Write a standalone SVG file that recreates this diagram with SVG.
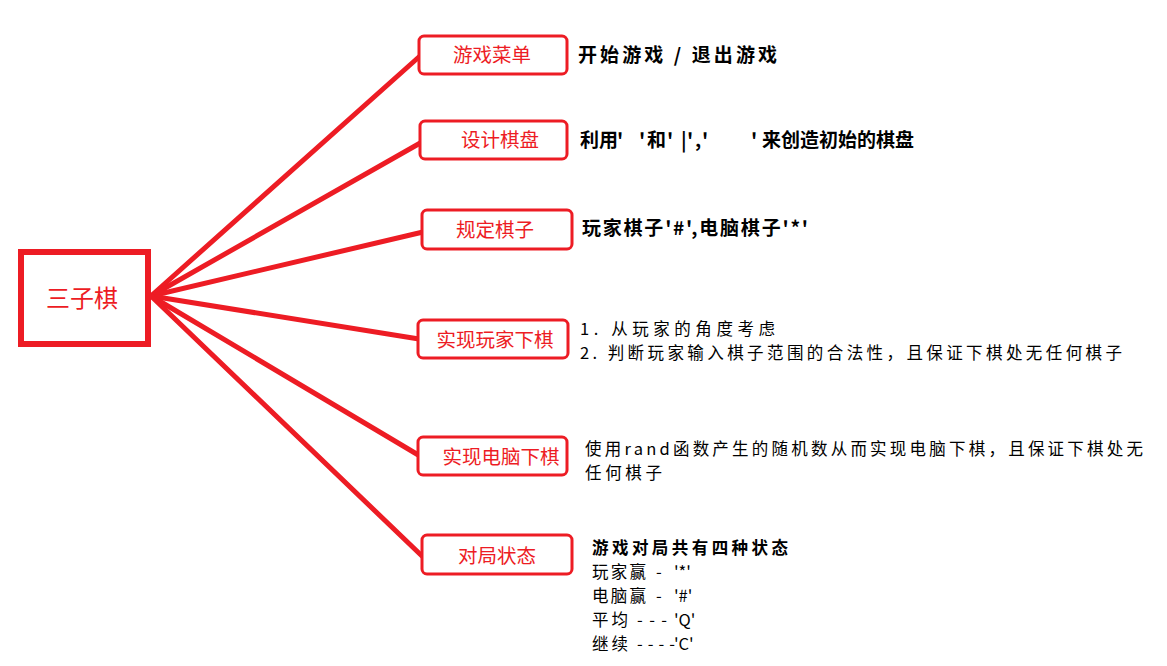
<svg xmlns="http://www.w3.org/2000/svg" width="1167" height="666" viewBox="0 0 1167 666">
<style>
.box{fill:#fff;stroke:#ed1c24;stroke-width:3}
.lbl{font-family:"Noto Sans CJK SC","Liberation Serif",serif;font-size:19.5px;fill:#ed1c24;text-anchor:middle}
.txt{font-family:"Noto Sans CJK SC","Liberation Sans",sans-serif;font-size:19px;fill:#000}
.sm{font-size:16.5px}
.b{font-weight:bold}
.conn{stroke:#ed1c24;stroke-width:5;fill:none;stroke-linecap:round}
</style>
<rect width="1167" height="666" fill="#fff"/>
<g id="connectors">
<line class="conn" x1="151" y1="296" x2="420" y2="56"/>
<line class="conn" x1="151" y1="296" x2="422" y2="142"/>
<line class="conn" x1="151" y1="296" x2="423" y2="232"/>
<line class="conn" x1="151" y1="296" x2="419" y2="339"/>
<line class="conn" x1="151" y1="296" x2="420" y2="456"/>
<line class="conn" x1="151" y1="296" x2="422" y2="556"/>
</g>
<g id="root">
<rect x="21" y="252" width="127" height="92" fill="#fff" stroke="#ed1c24" stroke-width="6"/>
<text x="82" y="307" class="lbl" style="font-size:24px">三子棋</text>
</g>
<g id="n1">
<rect class="box" x="419" y="36" width="148" height="38" rx="5"/>
<text class="lbl" x="492" y="62">游戏菜单</text>
<text class="txt b" x="578" y="62" textLength="199">开始游戏 / 退出游戏</text>
</g>
<g id="n2">
<rect class="box" x="420" y="121" width="147" height="38" rx="5"/>
<text class="lbl" x="500" y="147">设计棋盘</text>
<text class="txt b" y="147"><tspan x="580">利用</tspan><tspan x="617">'</tspan><tspan x="639">'</tspan><tspan x="647">和</tspan><tspan x="667">'</tspan><tspan x="681">|</tspan><tspan x="687">'</tspan><tspan x="695">,</tspan><tspan x="702">'</tspan><tspan x="751">'</tspan><tspan x="762">来创造初始的棋盘</tspan></text>
</g>
<g id="n3">
<rect class="box" x="422" y="210" width="150" height="39" rx="5"/>
<text class="lbl" x="495" y="237">规定棋子</text>
<text class="txt b" x="582" y="235" textLength="226">玩家棋子'#',电脑棋子'*'</text>
</g>
<g id="n4">
<rect class="box" x="418" y="320" width="150" height="38" rx="5"/>
<text class="lbl" x="495" y="347">实现玩家下棋</text>
<text class="txt sm" x="580" y="335" textLength="195">1. 从玩家的角度考虑</text>
<text class="txt sm" x="580" y="359" textLength="542">2. 判断玩家输入棋子范围的合法性，且保证下棋处无任何棋子</text>
</g>
<g id="n5">
<rect class="box" x="418" y="437" width="149" height="38" rx="5"/>
<text class="lbl" x="501" y="464">实现电脑下棋</text>
<text class="txt sm" x="585" y="455" textLength="558">使用rand函数产生的随机数从而实现电脑下棋，且保证下棋处无</text>
<text class="txt sm" x="585" y="479" textLength="77">任何棋子</text>
</g>
<g id="n6">
<rect class="box" x="422" y="535" width="150" height="39" rx="5"/>
<text class="lbl" x="497" y="563">对局状态</text>
<text class="txt sm b" x="592" y="554" textLength="196">游戏对局共有四种状态</text>
<text class="txt sm" y="578"><tspan x="592" textLength="54">玩家赢</tspan><tspan x="656">-</tspan><tspan x="674">'*'</tspan></text>
<text class="txt sm" y="602"><tspan x="592" textLength="54">电脑赢</tspan><tspan x="656">-</tspan><tspan x="674">'#'</tspan></text>
<text class="txt sm" y="626"><tspan x="592" textLength="36">平均</tspan><tspan x="637" textLength="30">---</tspan><tspan x="674">'Q'</tspan></text>
<text class="txt sm" y="650"><tspan x="592" textLength="36">继续</tspan><tspan x="637" textLength="38">----</tspan><tspan x="674">'C'</tspan></text>
</g>
</svg>
